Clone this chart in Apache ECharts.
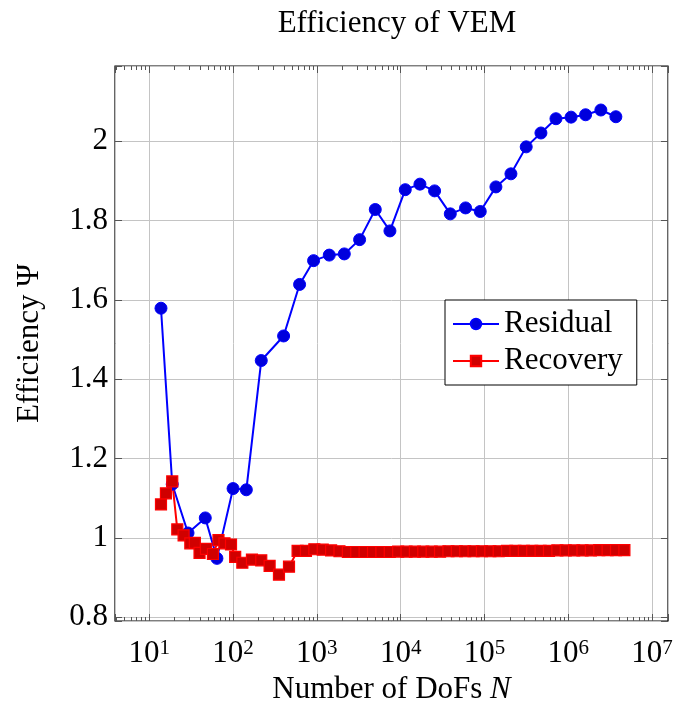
<!DOCTYPE html>
<html><head><meta charset="utf-8">
<script src="https://cdn.jsdelivr.net/npm/echarts@6/dist/echarts.min.js"></script>
<style>html,body{margin:0;padding:0;background:#fff}#c{width:673px;height:706px}</style>
</head><body><div id="c"></div>
<script>
// ---- data ----
const residualN = [13.8, 18.8, 29, 46.6, 64.2, 100, 144, 217, 401, 622, 914, 1406, 2125, 3236, 4977, 7447, 11350, 16990, 25400, 39100, 59500, 89100, 137000, 207000, 315000, 472000, 713000, 1080000, 1610000, 2450000, 3700000];
const residualPsi = [1.579, 1.135, 1.012, 1.050, 0.948, 1.124, 1.121, 1.447, 1.509, 1.639, 1.699, 1.713, 1.716, 1.752, 1.828, 1.774, 1.878, 1.892, 1.875, 1.817, 1.832, 1.823, 1.885, 1.918, 1.986, 2.021, 2.057, 2.061, 2.067, 2.079, 2.062];

const recoveryN = [13.8, 15.8, 18.8, 21.6, 25.7, 30.9, 35, 39.8, 47.5, 57.5, 67, 79, 94.5, 106, 129, 168, 217, 273, 353, 465,
  589, 741, 933, 1175, 1479, 1862, 2344, 2951, 3715, 4677, 5888, 7413, 9333, 11750, 14790, 18620, 23440, 29510, 37150, 46770,
  58880, 74130, 93330, 117500, 147900, 186200, 234400, 295100, 371500, 467700, 588800, 741300, 933300, 1175000, 1479000, 1862000,
  2344000, 2951000, 3715000, 4677000];
const recoveryPsi = [1.084, 1.112, 1.142, 1.021, 1.006, 0.986, 0.987, 0.962, 0.972, 0.959, 0.994, 0.986, 0.983, 0.952, 0.937, 0.945, 0.943, 0.929, 0.907, 0.927,
  0.967, 0.967, 0.971, 0.970, 0.968, 0.966, 0.964, 0.964, 0.964, 0.964, 0.964, 0.964, 0.965, 0.965, 0.965, 0.965, 0.965, 0.965, 0.966, 0.966,
  0.966, 0.966, 0.966, 0.966, 0.966, 0.967, 0.967, 0.967, 0.967, 0.967, 0.967, 0.968, 0.968, 0.968, 0.968, 0.968,
  0.969, 0.969, 0.969, 0.969];

const xTickExponents = [1, 2, 3, 4, 5, 6, 7];
const yTickValues = [0.8, 1, 1.2, 1.4, 1.6, 1.8, 2];
const titleText = 'Efficiency of VEM';
const xName = 'Number of DoFs ';
const xNameItalic = 'N';
const yName = 'Efficiency Ψ';

// ---- chart ----
const FONT = '"Liberation Serif", "DejaVu Serif", serif';
const FS = 31;
const xMin = 3.9, xMax = 1.55e7, yMin = 0.79, yMax = 2.19;
const GRID_COLOR = '#c4c4c4', TICK_COLOR = '#555';

function isPow10(v) { const l = Math.log10(v); return Math.abs(l - Math.round(l)) < 1e-6 && xTickExponents.includes(Math.round(l)); }
function isYTick(v) { return yTickValues.some(t => Math.abs(t - v) < 1e-6); }

const minorTicks = [];
for (let e = 0; e <= 7; e++) for (let k = 2; k <= 9; k++) {
  const v = k * Math.pow(10, e);
  if (v > xMin && v < xMax) minorTicks.push([v, yMin]);
}

const chart = echarts.init(document.getElementById('c'), null, { renderer: 'canvas' });

const xBase = {
  type: 'log', logBase: 10, min: xMin, max: xMax,
  axisLine: { show: false },
  axisTick: { show: true, inside: true, length: 7, lineStyle: { color: TICK_COLOR, width: 1 } },
  minorTick: { show: false }
};
const yBase = {
  type: 'value', min: yMin, max: yMax, splitNumber: 7,
  axisLine: { show: false },
  axisTick: { show: true, inside: true, length: 7, lineStyle: { color: TICK_COLOR, width: 1 } }
};

chart.setOption({
  animation: false,
  backgroundColor: '#fff',
  title: {
    text: titleText, left: 392, top: 3, textAlign: 'center',
    textStyle: { fontFamily: FONT, fontSize: FS, fontWeight: 'normal', color: '#000' }
  },
  grid: { left: 115, right: 5, top: 66, bottom: 85, containLabel: false, outerBoundsMode: 'none',
    show: true, borderColor: '#000', borderWidth: 1.2, backgroundColor: 'transparent' },
  legend: {
    data: ['Residual', 'Recovery'], orient: 'vertical', left: 445, top: 300,
    backgroundColor: '#fff', borderColor: '#000', borderWidth: 1, borderRadius: 0,
    padding: [8, 14, 8, 7], itemWidth: 46, itemHeight: 13, itemGap: 5,
    textStyle: { fontFamily: FONT, fontSize: FS, color: '#000', lineHeight: 32 }
  },
  xAxis: [
    Object.assign({}, xBase, {
      position: 'bottom',
      name: '{r|' + xName + '}{i|' + xNameItalic + '}', nameLocation: 'middle', nameGap: 53,
      nameTextStyle: { rich: {
        r: { fontFamily: FONT, fontSize: FS, color: '#000' },
        i: { fontFamily: FONT, fontSize: FS, fontStyle: 'italic', color: '#000' }
      } },
      axisLabel: {
        margin: 17,
        formatter: function (v) { if (!isPow10(v)) return ''; return '{b|10}{s|' + Math.round(Math.log10(v)) + '}'; },
        rich: {
          b: { fontFamily: FONT, fontSize: FS, color: '#000', lineHeight: 32 },
          s: { fontFamily: FONT, fontSize: 21, color: '#000', verticalAlign: 'top', lineHeight: 20 }
        }
      },
      splitLine: { show: true, lineStyle: { color: GRID_COLOR, width: 1 } }
    }),
    Object.assign({}, xBase, {
      position: 'top',
      axisLabel: { show: false },
      splitLine: { show: false }
    })
  ],
  yAxis: [
    Object.assign({}, yBase, {
      position: 'left',
      name: yName, nameLocation: 'middle', nameGap: 70, nameRotate: 90,
      nameTextStyle: { fontFamily: FONT, fontSize: FS, color: '#000' },
      axisLabel: {
        margin: 7, fontFamily: FONT, fontSize: FS, color: '#000',
        formatter: function (v) { return isYTick(v) ? String(+v.toFixed(1)) : ''; }
      },
      splitLine: { show: true, lineStyle: { color: GRID_COLOR, width: 1 } }
    }),
    Object.assign({}, yBase, {
      position: 'right',
      axisLabel: { show: false },
      splitLine: { show: false }
    })
  ],
  series: [
    {
      name: 'minorTicks', type: 'custom', silent: true, xAxisIndex: 0, yAxisIndex: 0, z: 1,
      data: minorTicks,
      renderItem: function (params, api) {
        const x = api.value(0);
        const pb = api.coord([x, yMin]);
        const pt = api.coord([x, yMax]);
        const px = Math.round(pb[0]) + 0.5;
        return { type: 'group', children: [
          { type: 'line', shape: { x1: px, y1: pb[1], x2: px, y2: pb[1] - 4 }, style: { stroke: TICK_COLOR, lineWidth: 1 } },
          { type: 'line', shape: { x1: px, y1: pt[1], x2: px, y2: pt[1] + 4 }, style: { stroke: TICK_COLOR, lineWidth: 1 } }
        ] };
      }
    },
    {
      name: 'Residual', type: 'line', xAxisIndex: 0, yAxisIndex: 0,
      data: residualN.map((n, i) => [n, residualPsi[i]]),
      symbol: 'circle', symbolSize: 12, showAllSymbol: true,
      lineStyle: { color: '#0000ff', width: 2 },
      itemStyle: { color: '#0000dd', borderColor: '#0000ff', borderWidth: 1 },
      z: 3
    },
    {
      name: 'Recovery', type: 'line', xAxisIndex: 0, yAxisIndex: 0,
      data: recoveryN.map((n, i) => [n, recoveryPsi[i]]),
      symbol: 'rect', symbolSize: 11, showAllSymbol: true,
      lineStyle: { color: '#ff0000', width: 2 },
      itemStyle: { color: '#d00000', borderColor: '#ff0000', borderWidth: 1.2 },
      z: 3
    }
  ]
});
</script>
</body></html>
